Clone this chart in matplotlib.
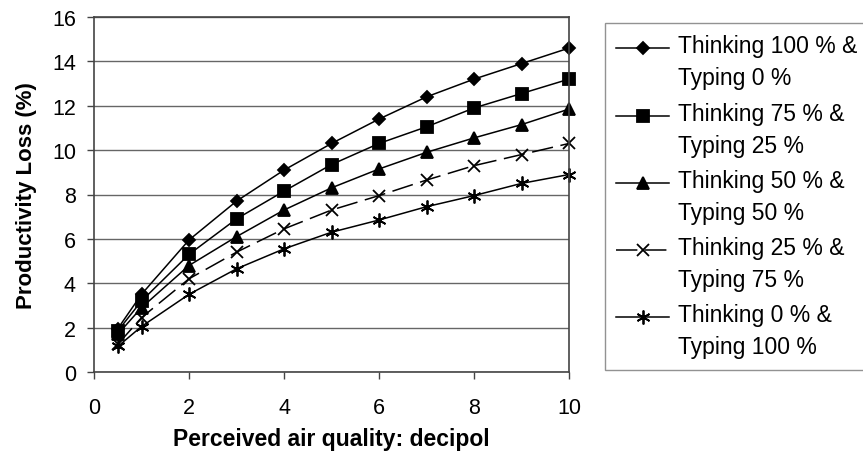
import matplotlib
matplotlib.use("Agg")
import matplotlib.pyplot as plt
from matplotlib.legend_handler import HandlerLine2D

plt.rcParams['font.family'] = ['Liberation Sans', 'DejaVu Sans']

x = [0.5, 1, 2, 3, 4, 5, 6, 7, 8, 9, 10]
think100 = [1.95, 3.5, 5.95, 7.7, 9.1, 10.3, 11.4, 12.4, 13.2, 13.9, 14.6]
think75 = [1.85, 3.2, 5.3, 6.9, 8.15, 9.35, 10.3, 11.05, 11.9, 12.55, 13.2]
think50 = [1.7, 2.9, 4.8, 6.1, 7.3, 8.3, 9.15, 9.9, 10.55, 11.15, 11.85]
think25 = [1.25, 2.45, 4.2, 5.4, 6.45, 7.3, 7.95, 8.65, 9.3, 9.8, 10.3]
think0 = [1.15, 2.05, 3.5, 4.65, 5.55, 6.3, 6.85, 7.45, 7.95, 8.5, 8.9]

labels = ["Thinking 100 % &\nTyping 0 %",
          "Thinking 75 % &\nTyping 25 %",
          "Thinking 50 % &\nTyping 50 %",
          "Thinking 25 % &\nTyping 75 %",
          "Thinking 0 % &\nTyping 100 %"]
yticks = [0, 2, 4, 6, 8, 10, 12, 14, 16]
xticks = [0, 2, 4, 6, 8, 10]


class TopHandler(HandlerLine2D):
    def __init__(self, shift, **kw):
        super().__init__(**kw)
        self.shift = shift

    def create_artists(self, legend, orig_handle, xdescent, ydescent,
                       width, height, fontsize, trans):
        return super().create_artists(legend, orig_handle, xdescent,
                                      ydescent - 2 * self.shift,
                                      width, height, fontsize, trans)


fig = plt.figure(figsize=(8.63, 4.60), dpi=100)
ax = fig.add_axes([94/863, 1-373/460, (569-94)/863, (373-18)/460])

series = [think100, think75, think50, think25, think0]
markers = ['D', 's', '^', 'x', (6, 2, 0)]
sizes = [6.5, 8, 8, 9, 10]
lines = []
for s, lab, m, ms in zip(series, labels, markers, sizes):
    ls = (0, (14, 5)) if m == 'x' else '-'
    ln, = ax.plot(x, s, color='black', lw=1.1, linestyle=ls, marker=m, ms=ms,
                  mew=1.3, mfc='black', mec='black', label=lab, clip_on=False)
    lines.append(ln)

ax.set_xlim(0, 10)
ax.set_ylim(0, 16)
ax.set_xticks(xticks)
ax.set_yticks(yticks)
ax.yaxis.grid(True, color='#666666', lw=1.0)
ax.set_axisbelow(True)
for sp in ax.spines.values():
    sp.set_color('#444444')
    sp.set_linewidth(1.2)
ax.tick_params(direction='out', length=5, width=1.0, color='#444444',
               labelsize=15.5)
ax.tick_params(axis='x', pad=13)
ax.tick_params(axis='y', pad=8)
ax.set_xlabel("Perceived air quality: decipol", fontsize=16.5, fontweight='bold')
ax.set_ylabel("Productivity Loss (%)", fontsize=16, fontweight='bold')
ax.xaxis.label.set_va('center')
ax.yaxis.label.set_va('center')
ax.xaxis.set_label_coords(0.5, (373-440)/355)
ax.yaxis.set_label_coords((27-94)/475, 0.5)

hmap = {ln: TopHandler(10.5) for ln in lines}
leg = fig.legend(handles=lines, labels=labels, handler_map=hmap,
                 loc='upper left', bbox_to_anchor=(605/863, 1-24/460),
                 fontsize=16.5, frameon=True, fancybox=False, edgecolor='#777777',
                 handlelength=2.3, labelspacing=0.53, handletextpad=0.4,
                 borderpad=0.5, borderaxespad=0)
leg.get_frame().set_linewidth(1.0)
for t in leg.get_texts():
    t.set_linespacing(1.5)

fig.savefig("out.png", dpi=100)
